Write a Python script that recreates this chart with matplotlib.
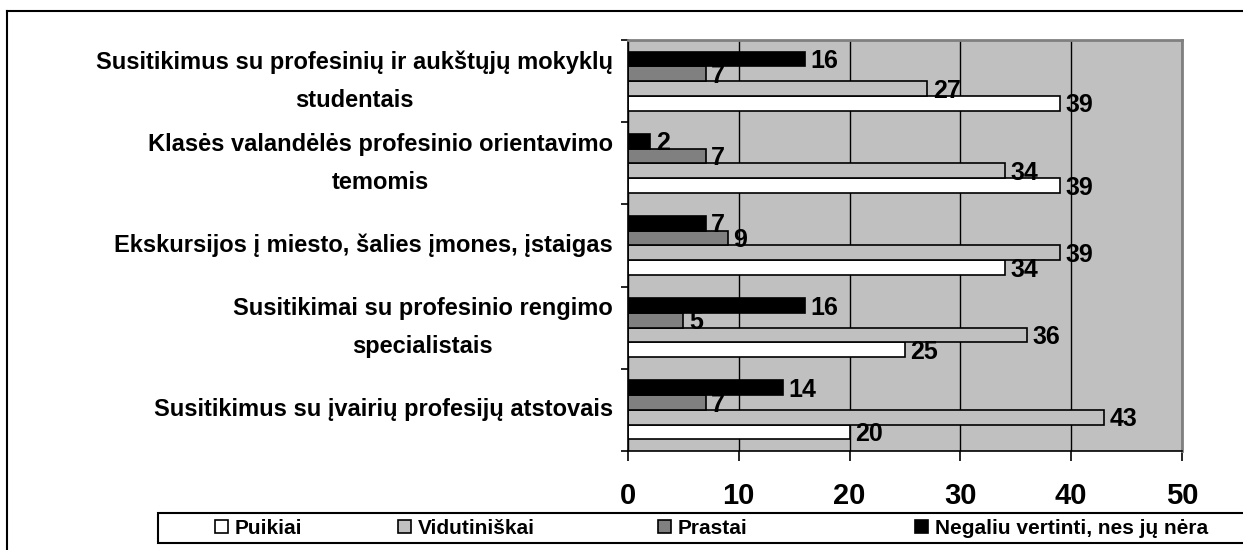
import numpy as np
import matplotlib.pyplot as plt
from matplotlib.lines import Line2D
from matplotlib.patches import Rectangle

plt.rcParams['font.family'] = ['Liberation Sans', 'DejaVu Sans']

categories = [
    'Susitikimus su profesinių ir aukštųjų mokyklų\nstudentais',
    'Klasės valandėlės profesinio orientavimo\ntemomis',
    'Ekskursijos į miesto, šalies įmones, įstaigas',
    'Susitikimai su profesinio rengimo\nspecialistais',
    'Susitikimus su įvairių profesijų atstovais',
]
puikiai = [39, 39, 34, 25, 20]
vidutiniskai = [27, 34, 39, 36, 43]
prastai = [7, 7, 9, 5, 7]
negaliu = [16, 2, 7, 16, 14]
series_names = ['Puikiai', 'Vidutiniškai', 'Prastai', 'Negaliu vertinti, nes jų nėra']
colors = ['white', '#c0c0c0', '#808080', 'black']
x_ticks = [0, 10, 20, 30, 40, 50]

fig = plt.figure(figsize=(12.43, 5.5), dpi=100)
ax = fig.add_axes([628 / 1243, 1 - 451 / 550, 554 / 1243, 411 / 550])
ax.set_facecolor('#c0c0c0')

y = np.arange(len(categories))
h = 0.18
offsets = [1.5 * h, 0.5 * h, -0.5 * h, -1.5 * h]
handles = []
for vals, off, col, name in zip([puikiai, vidutiniskai, prastai, negaliu],
                                offsets, colors, series_names):
    bars = ax.barh(y + off, vals, height=h, color=col, edgecolor='black',
                   linewidth=1.2, zorder=2, label=name)
    for v, yy in zip(vals, y + off):
        ax.annotate(str(v), xy=(v, yy), xytext=(4, -1.5),
                    textcoords='offset points', va='center', ha='left',
                    fontsize=18, fontweight='bold', zorder=3)
    handles.append(bars)

ax.set_xlim(0, 50)
ax.set_ylim(4.5, -0.5)
ax.set_xticks(x_ticks)
ax.set_xticklabels([str(t) for t in x_ticks], fontsize=21, fontweight='bold')
ax.tick_params(axis='x', length=7, width=1.2, pad=15, direction='out')
ax.set_yticks(y)
ax.set_yticklabels(categories, fontsize=17, fontweight='bold', ha='right',
                   va='center', multialignment='center', linespacing=1.85)
ax.tick_params(axis='y', which='major', length=0, pad=11)
ax.set_yticks(np.arange(-0.5, 5, 1), minor=True)
ax.tick_params(axis='y', which='minor', length=5, width=1.2, direction='out')

ax.set_axisbelow(True)
ax.grid(axis='x', color='black', linewidth=1)
ax.grid(axis='y', visible=False)
for s in ['left', 'bottom']:
    ax.spines[s].set_color('black')
    ax.spines[s].set_linewidth(1.2)
for s in ['top', 'right']:
    ax.spines[s].set_color('#808080')
    ax.spines[s].set_linewidth(2)

# outer chart border
fig.add_artist(Line2D([7 / 1243, 1.0], [1 - 11 / 550, 1 - 11 / 550],
                      color='black', linewidth=1.5, transform=fig.transFigure))
fig.add_artist(Line2D([7 / 1243, 7 / 1243], [0, 1 - 11 / 550],
                      color='black', linewidth=1.5, transform=fig.transFigure))

# legend box with entries placed like the original
fig.add_artist(Rectangle((158 / 1243, 1 - 543 / 550), 1.0, 30 / 550,
                         facecolor='white', edgecolor='black', linewidth=1.5,
                         transform=fig.transFigure, zorder=1))
legend_x = [215, 398, 658, 915]
for hnd, name, lx in zip(handles, series_names, legend_x):
    leg = fig.legend([hnd], [name], loc='center left',
                     bbox_to_anchor=(lx / 1243, 1 - 528 / 550),
                     prop={'size': 15, 'weight': 'bold'}, frameon=False,
                     handlelength=0.6, handleheight=0.6, handletextpad=0.35,
                     borderaxespad=0, borderpad=0)
    leg.set_zorder(2)

fig.savefig('out.png', dpi=100)
